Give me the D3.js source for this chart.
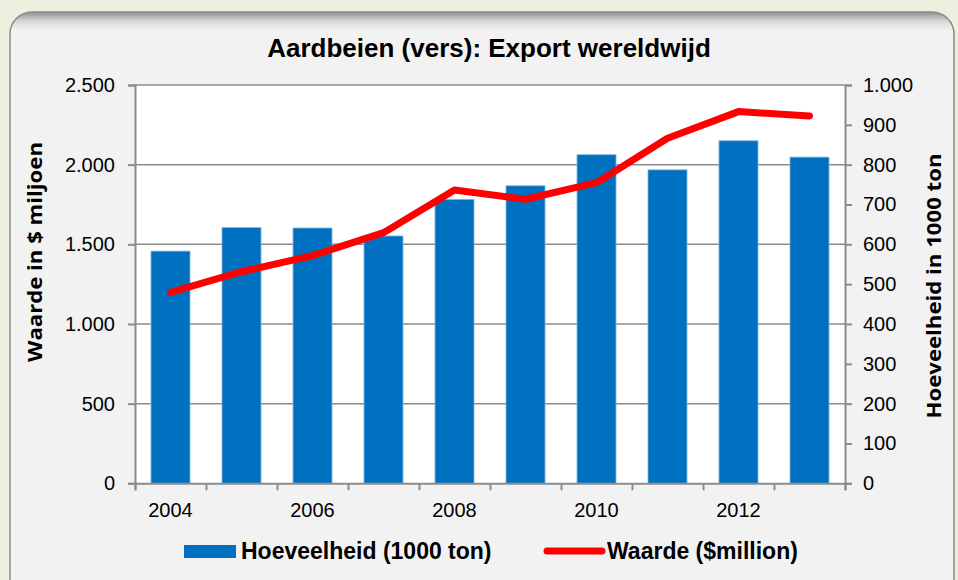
<!DOCTYPE html>
<html><head><meta charset="utf-8">
<script src="https://cdn.jsdelivr.net/npm/d3@7"></script>
<style>html,body{margin:0;padding:0;background:#ebf1de;}svg{display:block;}</style>
</head><body>
<svg id="c" width="958" height="580"></svg>
<script>
const years = [2004,2005,2006,2007,2008,2009,2010,2011,2012,2013];
const hoeveelheid = [583,642,641,621,713,747,825,787,860,819];      // 1000 ton (right axis)
const waarde = [1199,1328,1429,1573,1841,1783,1887,2166,2333,2306];  // $ million (left axis)
const leftTicks = [0,500,1000,1500,2000,2500];
const rightTicks = [0,100,200,300,400,500,600,700,800,900,1000];
const xLabelYears = [2004,2006,2008,2010,2012];
const fmt = d3.format(",");
const nl = v => fmt(v).replace(/,/g,".");

const svg = d3.select("#c");
const W=958,H=580;
const m = {l:135, r:845, t:85, b:483.3};

// panel
const defs = svg.append("defs");
const g1 = defs.append("linearGradient").attr("id","topsh").attr("gradientUnits","userSpaceOnUse")
  .attr("x1",0).attr("y1",12).attr("x2",0).attr("y2",30);
g1.append("stop").attr("offset",0).attr("stop-color","#8f8f8f");
g1.append("stop").attr("offset",0.5).attr("stop-color","#d6d6d6");
g1.append("stop").attr("offset",1).attr("stop-color","#f2f2f2");
svg.append("rect").attr("width",W).attr("height",H).attr("fill","#ebf1de");
svg.append("rect").attr("x",10).attr("y",12).attr("width",944).attr("height",590).attr("rx",22)
  .attr("fill","url(#topsh)").attr("stroke","#8a8a8a").attr("stroke-width",1.5);

const x = d3.scaleBand().domain(years).range([m.l,m.r]).paddingInner(0.45).paddingOuter(0.225);
const yL = d3.scaleLinear().domain([0,2500]).range([m.b,m.t]);
const yR = d3.scaleLinear().domain([0,1000]).range([m.b,m.t]);

svg.append("rect").attr("x",m.l).attr("y",m.t).attr("width",m.r-m.l).attr("height",m.b-m.t).attr("fill","#fff");

// gridlines
svg.append("g").selectAll("line").data(leftTicks.slice(1)).join("line")
  .attr("x1",m.l).attr("x2",m.r).attr("y1",d=>yL(d)).attr("y2",d=>yL(d))
  .attr("stroke","#8c8c8c").attr("stroke-width",1.5);

// bars
svg.append("g").selectAll("rect").data(years).join("rect")
  .attr("x",d=>x(d)).attr("width",x.bandwidth())
  .attr("y",(d,i)=>yR(hoeveelheid[i])).attr("height",(d,i)=>m.b-yR(hoeveelheid[i]))
  .attr("fill","#0070c0").attr("stroke","#8db9e2").attr("stroke-width",0.8);

// axes
const axisColor="#8c8c8c";
const aL = svg.append("g").attr("transform",`translate(${m.l},0)`)
  .call(d3.axisLeft(yL).tickValues(leftTicks).tickSize(7).tickPadding(13).tickFormat(nl));
const aR = svg.append("g").attr("transform",`translate(${m.r},0)`)
  .call(d3.axisRight(yR).tickValues(rightTicks).tickSize(7).tickPadding(11).tickFormat(nl));
const xEdge = d3.scaleLinear().domain([0,years.length]).range([m.l,m.r]);
const aB = svg.append("g").attr("transform",`translate(0,${m.b})`)
  .call(d3.axisBottom(xEdge).tickValues(d3.range(0,years.length+1)).tickSize(7).tickFormat(""));
[aL,aR,aB].forEach(a=>{
  a.select(".domain").attr("stroke",axisColor).attr("stroke-width",2);
  a.selectAll(".tick line").attr("stroke",axisColor).attr("stroke-width",2);
  a.selectAll("text").attr("font-family","'Liberation Sans', Arial, sans-serif").attr("font-size",20).attr("fill","#000");
});
// x labels
svg.append("g").selectAll("text").data(xLabelYears).join("text")
  .attr("x",d=>x(d)+x.bandwidth()/2).attr("y",517).attr("text-anchor","middle")
  .attr("font-family","'Liberation Sans', Arial, sans-serif").attr("font-size",20).text(d=>d);

// line
const line = d3.line().x((d,i)=>x(years[i])+x.bandwidth()/2).y(d=>yL(d));
svg.append("path").datum(waarde).attr("d",line).attr("fill","none")
  .attr("stroke","#ff0000").attr("stroke-width",7).attr("stroke-linecap","round").attr("stroke-linejoin","round");

// title
svg.append("text").attr("x",489).attr("y",57).attr("text-anchor","middle")
  .attr("font-family","'Liberation Sans', Arial, sans-serif").attr("font-weight","bold").attr("font-size",26)
  .text("Aardbeien (vers): Export wereldwijd");

// axis titles
svg.append("text").attr("transform","translate(42,252) rotate(-90)").attr("text-anchor","middle")
  .attr("font-family","'Open Sans', 'Noto Sans', sans-serif").attr("font-weight","bold").attr("font-size",20)
  .attr("textLength",220).attr("lengthAdjust","spacingAndGlyphs")
  .text("Waarde in $ miljoen");
svg.append("text").attr("transform","translate(941,286) rotate(-90)").attr("text-anchor","middle")
  .attr("font-family","'Open Sans', 'Noto Sans', sans-serif").attr("font-weight","bold").attr("font-size",20)
  .attr("textLength",265).attr("lengthAdjust","spacingAndGlyphs")
  .text("Hoeveelheid in 1000 ton");

// legend
const lg = svg.append("g");
lg.append("rect").attr("x",184).attr("y",545).attr("width",52).attr("height",13).attr("fill","#0070c0");
lg.append("text").attr("x",241).attr("y",559).attr("font-family","'Liberation Sans', Arial, sans-serif")
  .attr("font-weight","bold").attr("font-size",23).text("Hoeveelheid (1000 ton)");
lg.append("line").attr("x1",547).attr("x2",602).attr("y1",551).attr("y2",551)
  .attr("stroke","#ff0000").attr("stroke-width",7).attr("stroke-linecap","round");
lg.append("text").attr("x",607).attr("y",559).attr("font-family","'Liberation Sans', Arial, sans-serif")
  .attr("font-weight","bold").attr("font-size",23).text("Waarde ($million)");
</script>
</body></html>
